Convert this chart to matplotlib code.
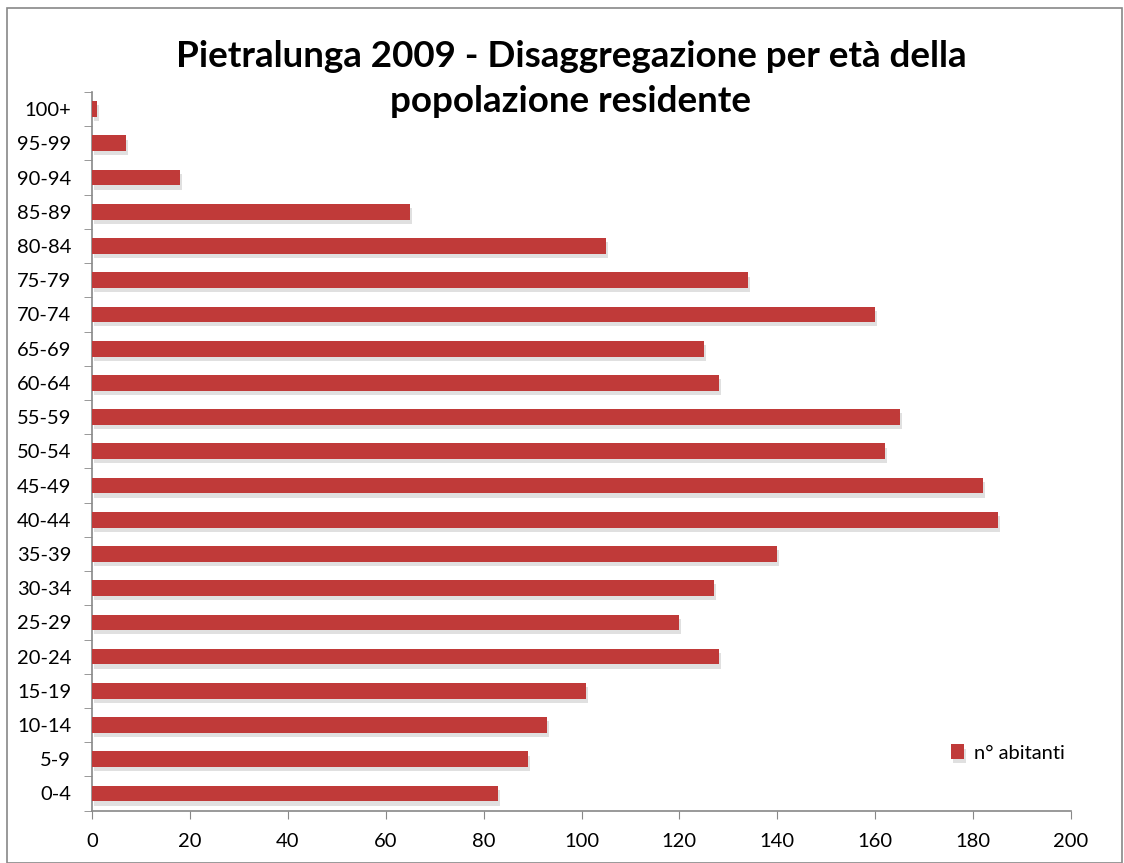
import matplotlib
matplotlib.use("Agg")
import matplotlib.pyplot as plt
import matplotlib.patheffects as pe
from matplotlib.patches import Rectangle

categories = ["0-4", "5-9", "10-14", "15-19", "20-24", "25-29", "30-34", "35-39",
              "40-44", "45-49", "50-54", "55-59", "60-64", "65-69", "70-74",
              "75-79", "80-84", "85-89", "90-94", "95-99", "100+"]
abitanti = [83, 89, 93, 101, 128, 120, 127, 140, 185, 182, 162, 165, 128, 125,
            160, 134, 105, 65, 18, 7, 1]
xticks = [0, 20, 40, 60, 80, 100, 120, 140, 160, 180, 200]
title = "Pietralunga 2009 - Disaggregazione per età della\npopolazione residente"
series_name = "n° abitanti"

plt.rcParams['font.family'] = ['Lato', 'DejaVu Sans']

W, H = 1124, 863
fig = plt.figure(figsize=(W / 100, H / 100), dpi=100)
ax = fig.add_axes([92 / W, 1 - 810.6 / H, (1071 - 92) / W, (810.6 - 92) / H])

ypos = list(range(len(categories)))
bars = ax.barh(ypos, abitanti, height=0.46, color="#C03A39", label=series_name, zorder=3)
for b in bars:
    b.set_path_effects([pe.SimplePatchShadow(offset=(1.5, -3), shadow_rgbFace="#999999", alpha=0.3),
                        pe.Normal()])

ax.set_xlim(0, 200)
ax.set_ylim(-0.5, len(categories) - 0.5)
ax.set_xticks(xticks)
ax.set_xticklabels([str(v) for v in xticks], fontsize=14.5)
ax.set_yticks(ypos)
ax.set_yticklabels(categories, fontsize=14.5)
ax.set_yticks([i - 0.5 for i in range(len(categories) + 1)], minor=True)
ax.tick_params(axis='y', which='major', length=0, pad=15)
ax.tick_params(axis='y', which='minor', length=6, color='#888888', direction='out')
ax.tick_params(axis='x', which='major', length=6, color='#888888', direction='out', pad=10)

for s in ['top', 'right']:
    ax.spines[s].set_visible(False)
for s in ['left', 'bottom']:
    ax.spines[s].set_color('#888888')
    ax.spines[s].set_linewidth(1.2)

leg = ax.legend(loc='lower right', bbox_to_anchor=(1.012, 0.043), frameon=False, fontsize=14.5,
                handlelength=0.65, handleheight=0.7, handletextpad=0.5)

fig.text(0.508, 1 - 79 / H, title, ha='center', va='center', fontsize=26.5,
         fontweight='bold', linespacing=1.45)

fig.patches.append(Rectangle((7 / W, 0), (W - 9) / W, 1 - 8 / H, transform=fig.transFigure,
                             fill=False, edgecolor='#888888', linewidth=1.2))

fig.savefig("out.png", dpi=100)
